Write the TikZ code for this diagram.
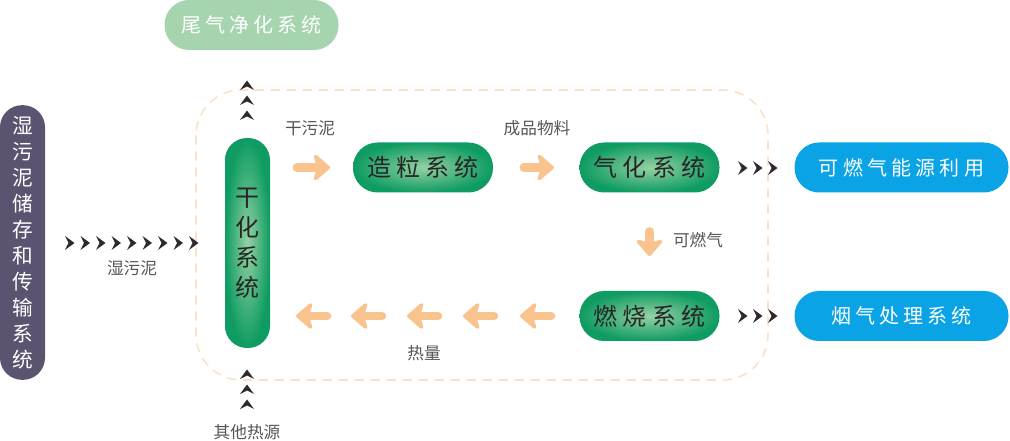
\documentclass[tikz,border=0pt]{standalone}
\usepackage{fontspec}
\setmainfont{Noto Sans CJK SC}
\newfontfamily\boxfont[LetterSpace=21]{Noto Sans CJK SC}
\usetikzlibrary{positioning,arrows.meta}
\definecolor{storegray}{HTML}{5B5470}
\definecolor{procgreen}{HTML}{0E9C62}
\definecolor{procglow}{HTML}{95D1A3}
\definecolor{tailgreen}{HTML}{A6D4AE}
\definecolor{useblue}{HTML}{0AA3E5}
\definecolor{warmorange}{HTML}{F8C38C}
\definecolor{loopline}{HTML}{FCE0C8}
\definecolor{chevdark}{HTML}{2E2A2B}
\definecolor{labelgray}{HTML}{555555}

\tikzset{
  procbox/.style={rectangle, rounded corners=18.5pt, minimum width=105pt, minimum height=37.5pt,
    shading=radial, inner color=procglow, outer color=procgreen, text=black!85,
    font=\boxfont\fontsize{18}{18}\selectfont},
  usebox/.style={rectangle, rounded corners=18.5pt, minimum width=160.5pt, minimum height=37.5pt,
    fill=useblue, text=white, font=\boxfont\fontsize{15}{15}\selectfont},
  flowlabel/.style={text=labelgray, font=\fontsize{12.5}{12.5}\selectfont},
  orarrow/.style={draw=warmorange, line width=6.5pt, line cap=round,
    -{Stealth[length=14pt, width=24pt, inset=3.5pt, round]}},
  chev/.pic={\fill[chevdark] (-5,-7) -- (4.5,0) -- (-5,7) -- (-1.5,0) -- cycle;}
}

\begin{document}
\begin{tikzpicture}[x=0.75pt,y=-0.75pt]
\useasboundingbox (0,0) rectangle (1010,441);

% dashed loop round the plant
\draw[loopline, line width=1.2pt, dash pattern=on 7pt off 5pt, rounded corners=34pt]
  (196,90) rectangle (768,380);

% nodes
\node[rectangle, rounded corners=16.5pt, minimum width=33.75pt, minimum height=206pt,
  fill=storegray, text=white, align=center, inner sep=0pt,
  font=\fontsize{15.5}{19.5}\selectfont] (store) at (22.5,242.5)
  {湿\\污\\泥\\储\\存\\和\\传\\输\\系\\统};
\node[rectangle, rounded corners=16.5pt, minimum width=33.75pt, minimum height=157.5pt,
  shading=radial, inner color=procglow, outer color=procgreen, text=black!85,
  align=center, inner sep=0pt, font=\fontsize{18}{22.5}\selectfont] (dry) at (247.5,243)
  {干\\化\\系\\统};
\node[procbox] (gran) at (423,167.5) {造粒系统};
\node[procbox] (gas) at (649.5,167.5) {气化系统};
\node[procbox] (burn) at (649.5,316) {燃烧系统};
\node[usebox] (fuel) at (901.5,167.5) {可燃气能源利用};
\node[usebox] (flue) at (901.5,316) {烟气处理系统};
\node[rectangle, rounded corners=18.5pt, minimum width=130.5pt, minimum height=37.5pt,
  fill=tailgreen, text=white, font=\boxfont\fontsize{15}{15}\selectfont] (tail) at (251.5,25) {尾气净化系统};

% orange flow arrows
\draw[orarrow, shorten <=20pt, shorten >=17pt] (dry.east |- gran.west) -- (gran.west);
\draw[orarrow, shorten <=23pt, shorten >=19pt] (gran.east) -- (gas.west);
\draw[orarrow, shorten <=29pt, shorten >=26pt] (gas.south) -- (burn.north);
\foreach \x in {537,480,424,368,313}
  \draw[orarrow] (\x+14,316) -- (\x-17,316);

% chevron rows
\foreach \x in {70,85.5,...,205} \pic at (\x,243) {chev};
\foreach \y in {115,100,85} \pic[rotate=90] at (247,\y) {chev};
\foreach \y in {404,389,374} \pic[rotate=90] at (247,\y) {chev};
\foreach \x in {743,758,773} {
  \pic at (\x,168) {chev};
  \pic at (\x,316) {chev};
}

% labels
\node[flowlabel] (wetlbl) at (132,268) {湿污泥};
\node[flowlabel] (drylbl) at (310,128) {干污泥};
\node[flowlabel] (prodlbl) at (537,128) {成品物料};
\node[flowlabel] (gaslbl) at (698,240) {可燃气};
\node[flowlabel] (heatlbl) at (424,353) {热量};
\node[flowlabel] (otherlbl) at (247,432) {其他热源};
\end{tikzpicture}
\end{document}
